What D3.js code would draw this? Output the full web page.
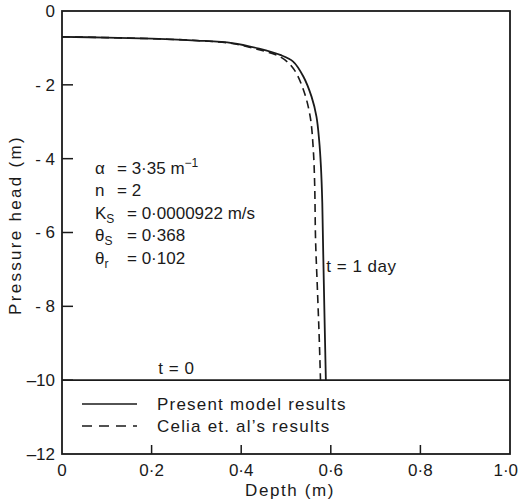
<!DOCTYPE html>
<html>
<head>
<meta charset="utf-8">
<script src="https://cdn.jsdelivr.net/npm/d3@7"></script>
<style>
body { margin: 0; background: #fff; }
svg text { font-family: "Liberation Sans", "DejaVu Sans", sans-serif; fill: #1a1a1a; }
</style>
</head>
<body>
<svg id="chart" width="520" height="502"></svg>
<script>
// depth (m), pressure head (m)
var present = [
  [0, -0.70], [0.1, -0.72], [0.2, -0.75], [0.3, -0.80], [0.38, -0.87], [0.44, -1.02],
  [0.487, -1.19], [0.516, -1.37], [0.539, -1.78], [0.557, -2.32], [0.568, -2.86],
  [0.574, -3.5], [0.578, -4.22], [0.581, -5.2], [0.583, -6.5], [0.586, -8.3], [0.589, -10]
];
var celia = [
  [0, -0.70], [0.1, -0.72], [0.2, -0.75], [0.3, -0.80], [0.38, -0.88], [0.44, -1.05],
  [0.487, -1.24], [0.516, -1.55], [0.539, -2.14], [0.554, -2.86], [0.561, -3.77],
  [0.564, -4.7], [0.566, -6.2], [0.570, -7.5], [0.574, -8.8], [0.577, -10]
];
var initial = [[0, -10], [1.0, -10]];

var xTicks = [0, 0.2, 0.4, 0.6, 0.8, 1.0];
var xTickLabels = ['0', '0·2', '0·4', '0·6', '0·8', '1·0'];
var yTicks = [0, -2, -4, -6, -8, -10, -12];
var yTickLabels = ['0', '- 2', '- 4', '- 6', '- 8', '\u201310', '\u201312'];

var legendNames = ['Present model results', 'Celia et. al\u2019s results'];

var ink = '#1a1a1a';
var svg = d3.select('#chart');

var xScale = d3.scaleLinear().domain([0, 1]).range([62, 510]);
var yScale = d3.scaleLinear().domain([0, -12]).range([11, 454]);

// frame
svg.append('rect')
  .attr('x', xScale(0)).attr('y', yScale(0))
  .attr('width', xScale(1) - xScale(0))
  .attr('height', yScale(-12) - yScale(0))
  .attr('fill', 'none').attr('stroke', ink).attr('stroke-width', 1.8);

// inward ticks
svg.selectAll('.ytick')
  .data(yTicks.filter(d => d != 0 && d != -12))
  .join('line')
  .attr('class', 'ytick')
  .attr('x1', xScale(0)).attr('x2', xScale(0) + 11)
  .attr('y1', d => yScale(d)).attr('y2', d => yScale(d))
  .attr('stroke', ink).attr('stroke-width', 1.5);

svg.selectAll('.xtick')
  .data(xTicks.filter(d => d != 0 && d != 1))
  .join('line')
  .attr('class', 'xtick')
  .attr('x1', d => xScale(d)).attr('x2', d => xScale(d))
  .attr('y1', yScale(-12)).attr('y2', yScale(-12) - 9)
  .attr('stroke', ink).attr('stroke-width', 1.5);

// tick labels
svg.selectAll('.ylab')
  .data(yTicks)
  .join('text')
  .attr('class', 'ylab')
  .attr('x', xScale(0) - 7)
  .attr('y', d => yScale(d))
  .attr('dy', '0.35em')
  .attr('text-anchor', 'end')
  .attr('font-size', 17)
  .text((d, i) => yTickLabels[i]);

// last label sits right-aligned at the window edge, as in the original
svg.selectAll('.xlab')
  .data(xTicks)
  .join('text')
  .attr('class', 'xlab')
  .attr('x', d => d == 1 ? 518 : xScale(d))
  .attr('y', 470)
  .attr('dy', '0.35em')
  .attr('text-anchor', d => d == 1 ? 'end' : 'middle')
  .attr('font-size', 17)
  .text((d, i) => xTickLabels[i]);

// axis titles
svg.append('text')
  .attr('x', 290).attr('y', 490)
  .attr('dy', '0.35em')
  .attr('text-anchor', 'middle')
  .attr('font-size', 17)
  .attr('letter-spacing', 1.6)
  .text('Depth (m)');

svg.append('text')
  .attr('transform', 'translate(15,225) rotate(-90)')
  .attr('dy', '0.35em')
  .attr('text-anchor', 'middle')
  .attr('font-size', 17)
  .attr('letter-spacing', 2.3)
  .text('Pressure head (m)');

// curves
var line = d3.line()
  .curve(d3.curveCatmullRom.alpha(0.5))
  .x(d => xScale(d[0]))
  .y(d => yScale(d[1]));

svg.append('path').datum(initial)
  .attr('d', line).attr('fill', 'none')
  .attr('stroke', ink).attr('stroke-width', 1.6);

svg.append('path').datum(celia)
  .attr('d', line).attr('fill', 'none')
  .attr('stroke', ink).attr('stroke-width', 1.6)
  .attr('stroke-dasharray', '8,5');

svg.append('path').datum(present)
  .attr('d', line).attr('fill', 'none')
  .attr('stroke', ink).attr('stroke-width', 1.8);

// curve labels
svg.append('text')
  .attr('x', xScale(0.59)).attr('y', yScale(-6.9))
  .attr('dy', '0.35em')
  .attr('font-size', 17)
  .attr('letter-spacing', 0.5)
  .text('t = 1 day');

svg.append('text')
  .attr('x', xScale(0.215)).attr('y', yScale(-10) - 6)
  .attr('font-size', 17)
  .attr('letter-spacing', 0.5)
  .text('t = 0');

// legend
var legend = svg.selectAll('.legend')
  .data(legendNames)
  .join('g')
  .attr('class', 'legend')
  .attr('transform', (d, i) => 'translate(82,' + (404 + i * 22) + ')');

legend.append('line')
  .attr('x1', 0).attr('x2', 55)
  .attr('stroke', ink).attr('stroke-width', 1.6)
  .attr('stroke-dasharray', (d, i) => i == 0 ? null : '10,7');

legend.append('text')
  .attr('x', 75).attr('dy', '0.35em')
  .attr('font-size', 17)
  .attr('letter-spacing', 1.2)
  .text(d => d);

// parameters
var params = [
  {sym: '\u03b1', sub: '', val: '= 3·35 m', sup: '\u22121'},
  {sym: 'n', sub: '', val: '= 2', sup: ''},
  {sym: 'K', sub: 'S', val: '= 0·0000922 m/s', sup: ''},
  {sym: '\u03b8', sub: 'S', val: '= 0·368', sup: ''},
  {sym: '\u03b8', sub: 'r', val: '= 0·102', sup: ''}
];

var pg = svg.selectAll('.param')
  .data(params)
  .join('g')
  .attr('class', 'param')
  .attr('transform', (d, i) => 'translate(95,' + (168 + i * 22.5) + ')');

pg.append('text')
  .attr('dy', '0.35em')
  .attr('font-size', 17)
  .text(d => d.sym)
  .append('tspan')
  .attr('font-size', 12)
  .attr('dy', 4)
  .text(d => d.sub);

pg.append('text')
  .attr('x', (d, i) => i < 2 ? 22 : 32)
  .attr('dy', '0.35em')
  .attr('font-size', 17)
  .text(d => d.val)
  .append('tspan')
  .attr('font-size', 12)
  .attr('dy', -7)
  .text(d => d.sup);
</script>
</body>
</html>
